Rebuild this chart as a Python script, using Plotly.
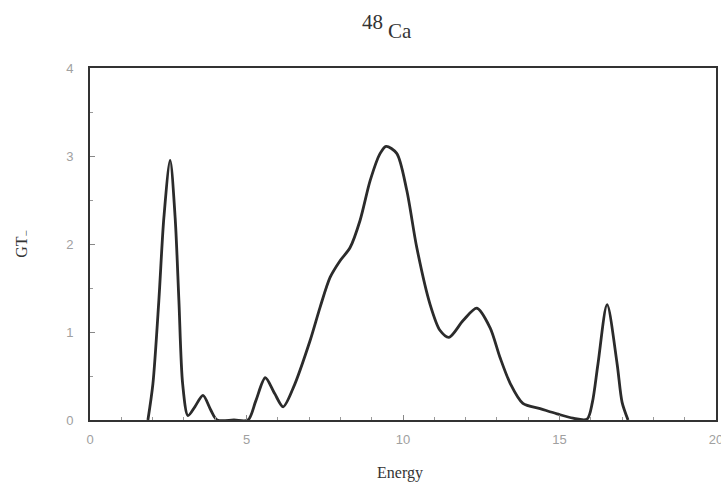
import plotly.graph_objects as go

# Gamow-Teller (GT-) strength distribution for 48Ca, sampled along the curve
energy = [1.85, 2.01, 2.2, 2.36, 2.56, 2.72, 2.84, 2.96, 3.13, 3.35, 3.61, 3.85,
          4.06, 4.6, 5.05, 5.3, 5.6, 5.9, 6.17, 6.5, 7.03, 7.35, 7.67, 7.99,
          8.31, 8.63, 8.95, 9.27, 9.46, 9.8, 10.12, 10.44, 10.86, 11.18, 11.47,
          11.92, 12.36, 12.78, 13.1, 13.42, 13.83, 14.38, 14.92, 15.43, 15.88,
          16.05, 16.23, 16.52, 16.84, 17.0, 17.19]
strength = [0.0, 0.41, 1.36, 2.3, 2.95, 2.3, 1.36, 0.41, 0.05, 0.15, 0.28, 0.12,
            0.0, 0.0, 0.0, 0.22, 0.48, 0.3, 0.15, 0.37, 0.9, 1.28, 1.62, 1.81,
            1.96, 2.27, 2.72, 3.03, 3.11, 3.03, 2.61, 1.96, 1.32, 1.02, 0.94,
            1.13, 1.27, 1.05, 0.71, 0.42, 0.19, 0.13, 0.07, 0.02, 0.01,
            0.2, 0.64, 1.31, 0.64, 0.2, 0.0]

x_ticks = [0, 5, 10, 15, 20]
y_ticks = [0, 1, 2, 3, 4]

fig = go.Figure()
fig.add_trace(go.Scatter(
    x=energy, y=strength, mode="lines",
    line=dict(color="#2b2b2b", width=2.8, shape="spline", smoothing=0.8),
    hoverinfo="x+y", showlegend=False,
))

tick_font = dict(family="Liberation Sans Narrow, Liberation Sans, sans-serif", size=13, color="#a0a0a0")
serif = "Liberation Serif, DejaVu Serif, serif"
ink = "#333333"

fig.update_layout(
    width=721, height=486,
    margin=dict(l=90, r=5, t=68, b=66, autoexpand=False),
    paper_bgcolor="white", plot_bgcolor="white",
)

# Nuclide label: mass number raised before the element symbol
fig.add_annotation(text="48", xref="paper", yref="paper", x=0.452, y=1.131,
                   xanchor="center", yanchor="middle",
                   showarrow=False, font=dict(family=serif, size=21, color=ink))
fig.add_annotation(text="Ca", xref="paper", yref="paper", x=0.495, y=1.105,
                   xanchor="center", yanchor="middle",
                   showarrow=False, font=dict(family=serif, size=21, color=ink))

# Axis titles
fig.add_annotation(text="Energy", xref="paper", yref="paper", x=0.495, y=-0.15,
                   xanchor="center", yanchor="middle",
                   showarrow=False, font=dict(family=serif, size=16, color=ink))
fig.add_annotation(text="GT<sub>\u2212</sub>", xref="paper", yref="paper", x=-0.109, y=0.5,
                   xanchor="center", yanchor="middle",
                   textangle=-90, showarrow=False, font=dict(family=serif, size=16, color=ink))

fig.update_xaxes(
    range=[0, 20], tickvals=x_ticks, ticktext=[str(v) for v in x_ticks],
    showgrid=False, zeroline=False, automargin=False, ticklabeloverflow="allow",
    showline=True, linecolor=ink, linewidth=2, mirror=True,
    ticks="inside", ticklen=5, tickcolor="#888888", tickwidth=1,
    minor=dict(dtick=1, ticks="inside", ticklen=3, tickcolor="#999999", tickwidth=1),
    tickfont=tick_font, ticklabelstandoff=6,
)
fig.update_yaxes(
    range=[0, 4], tickvals=y_ticks, ticktext=[str(v) for v in y_ticks],
    showgrid=False, zeroline=False, automargin=False, ticklabeloverflow="allow",
    showline=True, linecolor=ink, linewidth=2, mirror=True,
    ticks="inside", ticklen=5, tickcolor="#888888", tickwidth=1,
    minor=dict(dtick=0.5, ticks="inside", ticklen=3, tickcolor="#999999", tickwidth=1),
    tickfont=tick_font, ticklabelstandoff=12,
)

fig.write_html("out.html")
